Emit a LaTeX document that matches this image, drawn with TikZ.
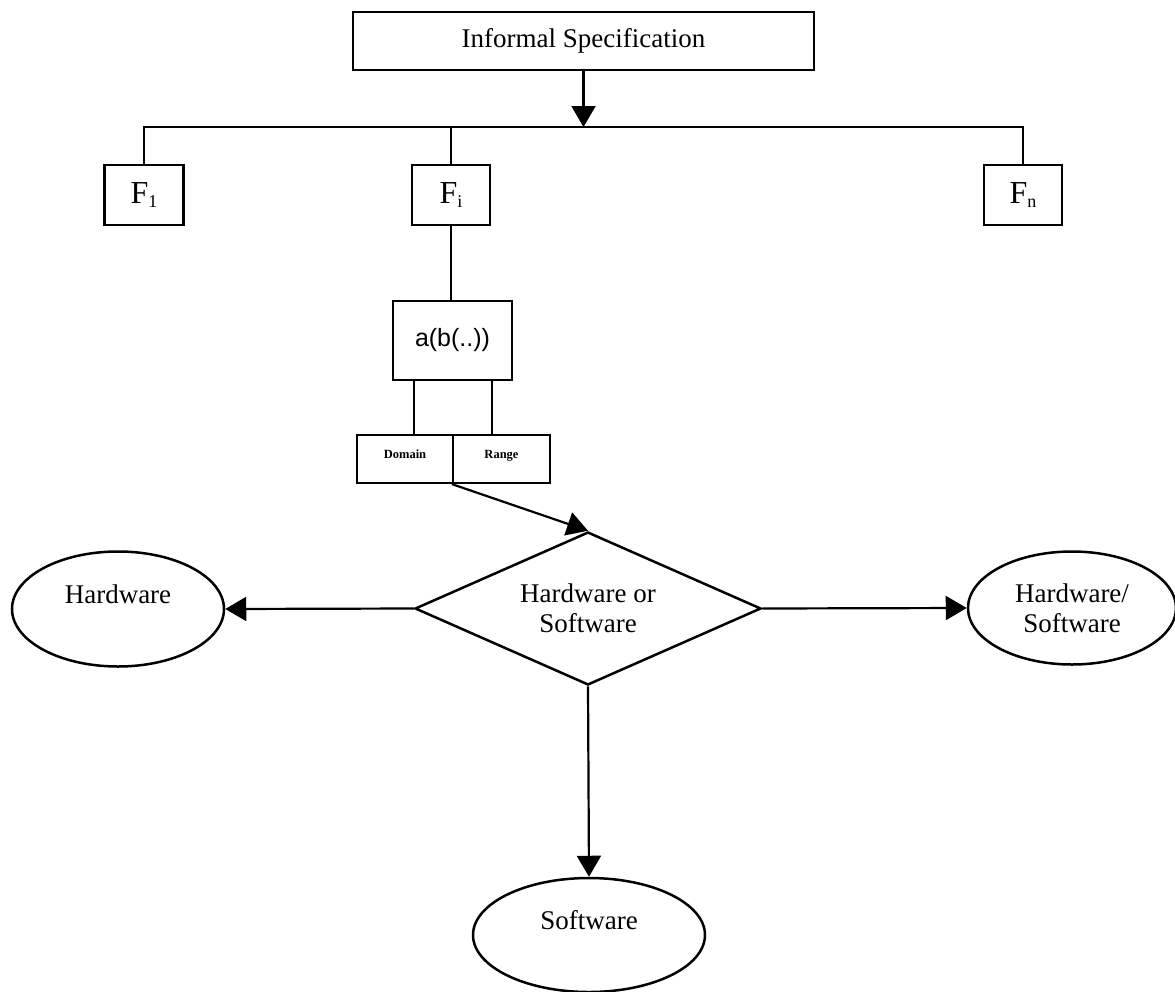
\documentclass[tikz,border=0pt]{standalone}
\usepackage{fontspec}
\setmainfont{Liberation Serif}
\newfontfamily\sansfam{Liberation Sans}
\usetikzlibrary{arrows.meta,shapes.geometric}
% F with a subscript index
\newcommand\Findex[1]{{\fontsize{32}{32}\selectfont F}\raisebox{-4pt}{\fontsize{18}{18}\selectfont #1}}
\begin{document}
\begin{tikzpicture}[x=1pt,y=-1pt,
  box/.style={draw, line width=2.5pt, inner sep=0pt, font=\fontsize{27}{30}\selectfont},
  fbox/.style={box, minimum width=79pt, minimum height=60pt},
  tag/.style={draw, line width=2.2pt, inner sep=0pt, minimum height=48pt,
              text height=9pt, text depth=10pt,
              font=\bfseries\fontsize{12.5}{14}\selectfont},
  oval/.style={draw, ellipse, line width=2.5pt, inner sep=0pt, align=center,
               font=\fontsize{27}{30}\selectfont},
  choice/.style={draw, diamond, aspect=2.27, line width=2.5pt, inner sep=0pt,
                 align=center, font=\fontsize{27}{30}\selectfont},
  link/.style={line width=2.3pt},
  flow/.style={line width=2.2pt, -{Triangle[length=21pt,width=24pt]}},
]
\useasboundingbox (0,0) rectangle (1175,991);

% specification and its functions
\node[box, minimum width=461pt, minimum height=58pt] (spec) at (583.5,41) {Informal Specification};
\coordinate (bus) at (583.5,127);
\node[fbox] (f1) at (144,195) {\Findex{1}};
\node[fbox, minimum width=78pt] (fi) at (451,195) {\Findex{i}};
\node[fbox, minimum width=78pt] (fn) at (1023,195) {\Findex{n}};

\draw[flow] (spec.south) -- (bus);
\draw[link] (f1.north) |- (bus) -| (fn.north);
\draw[link] (fi.north) -- (fi.north |- bus);

% function term with domain and range
\node[box, minimum width=119pt, minimum height=79pt,
      font=\sansfam\fontsize{25}{28}\selectfont] (abox) at (452.5,340.5) {a(b(..))};
\node[tag, minimum width=96pt] (dom) at (405,459) {Domain};
\node[tag, minimum width=97pt] (rng) at (501.5,459) {Range};

\draw[link] (fi.south) -- (fi.south |- abox.north);
\draw[link] ([xshift=-38.5pt]abox.south) -- ([xshift=-38.5pt]abox.south |- dom.north);
\draw[link] ([xshift=39.5pt]abox.south) -- ([xshift=39.5pt]abox.south |- rng.north);

% partitioning decision
\node[choice, minimum width=346pt, minimum height=153pt] (dec) at (588,608.5) {Hardware or\\Software};
\node[oval, minimum width=212pt, minimum height=115pt] (hw) at (118,609) {Hardware\\~};
\node[oval, minimum width=208pt, minimum height=113pt] (hs) at (1072,608) {Hardware/\\Software};
\node[oval, minimum width=232pt, minimum height=114pt] (sw) at (589,935) {Software\\~};

\draw[flow] (rng.south west) -- (dec.north);
\draw[flow] (dec.west) -- (hw.east);
\draw[flow] (dec.east) -- (hs.west);
\draw[flow] (dec.south) -- (sw.north);
\end{tikzpicture}
\end{document}
